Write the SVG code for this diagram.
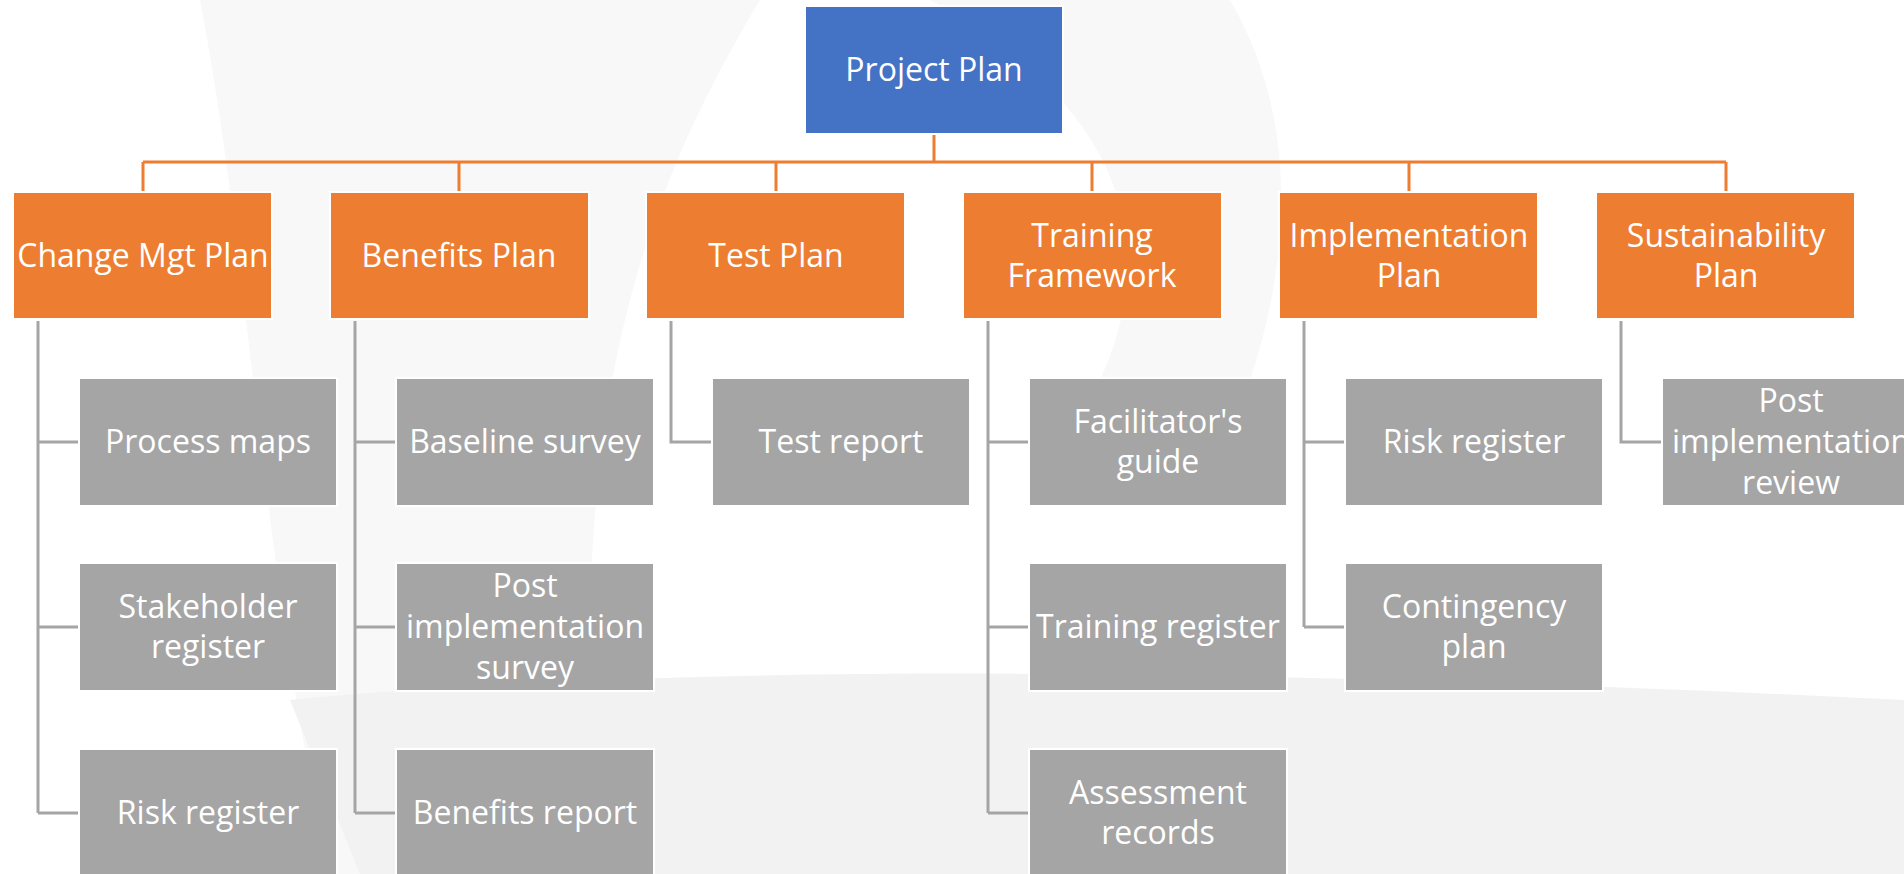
<svg xmlns="http://www.w3.org/2000/svg" width="1904" height="874" viewBox="0 0 1904 874">
<style>
.bg{fill:#ffffff}
.wm{fill:#f8f8f8}
.wm2{fill:#f2f2f2}
.top{fill:#4472c4;stroke:#ffffff;stroke-width:2}
.lvl1{fill:#ed7d31;stroke:#ffffff;stroke-width:2}
.lvl2{fill:#a5a5a5;stroke:#ffffff;stroke-width:2}
text{font-family:"Open Sans","Noto Sans","Liberation Sans",sans-serif;font-size:32px;fill:#ffffff;text-anchor:middle}
.oc{fill:none;stroke:#ed7d31;stroke-width:3}
.gc{fill:none;stroke:#a5a5a5;stroke-width:3}
</style>
<rect class="bg" x="0" y="0" width="1904" height="874"/>
<g id="watermark">
<path class="wm" d="M200 0 L760 0 C640 200 560 420 600 874 L330 874 C260 560 250 260 200 0 Z"/>
<path class="wm" d="M930 0 L1230 0 C1300 120 1290 260 1250 380 L1100 380 C1160 250 1130 110 930 0 Z"/>
<path class="wm2" d="M290 700 C700 660 1300 670 1904 700 L1904 874 L360 874 C330 800 310 750 290 700 Z"/>
</g>
<g id="connectors">
<path class="oc" d="M934 134 V162 M143 162 H1726 M143 162 V192 M459 162 V192 M776 162 V192 M1092 162 V192 M1409 162 V192 M1726 162 V192"/>
<path class="gc" d="M38 321 V813 M38 442 H79 M38 627 H79 M38 813 H79"/>
<path class="gc" d="M355 321 V813 M355 442 H396 M355 627 H396 M355 813 H396"/>
<path class="gc" d="M671 321 V442 H712"/>
<path class="gc" d="M988 321 V813 M988 442 H1029 M988 627 H1029 M988 813 H1029"/>
<path class="gc" d="M1304 321 V627 M1304 442 H1345 M1304 627 H1345"/>
<path class="gc" d="M1621 321 V442 H1662"/>
</g>
<g id="project-plan"><rect class="top" x="805" y="6" width="258" height="128"/><text x="934" y="81">Project Plan</text></g>
<g id="change-mgt-plan"><rect class="lvl1" x="13" y="192" width="259" height="127"/><text x="143" y="267">Change Mgt Plan</text></g>
<g id="benefits-plan"><rect class="lvl1" x="330" y="192" width="259" height="127"/><text x="459" y="267">Benefits Plan</text></g>
<g id="test-plan"><rect class="lvl1" x="646" y="192" width="259" height="127"/><text x="776" y="267">Test Plan</text></g>
<g id="training-framework"><rect class="lvl1" x="963" y="192" width="259" height="127"/><text x="1092" y="247">Training</text><text x="1092" y="287">Framework</text></g>
<g id="implementation-plan"><rect class="lvl1" x="1279" y="192" width="259" height="127"/><text x="1409" y="247">Implementation</text><text x="1409" y="287">Plan</text></g>
<g id="sustainability-plan"><rect class="lvl1" x="1596" y="192" width="259" height="127"/><text x="1726" y="247">Sustainability</text><text x="1726" y="287">Plan</text></g>
<g id="process-maps"><rect class="lvl2" x="79" y="378" width="258" height="128"/><text x="208" y="453">Process maps</text></g>
<g id="stakeholder-register"><rect class="lvl2" x="79" y="563" width="258" height="128"/><text x="208" y="618">Stakeholder</text><text x="208" y="658">register</text></g>
<g id="risk-register-1"><rect class="lvl2" x="79" y="749" width="258" height="128"/><text x="208" y="824">Risk register</text></g>
<g id="baseline-survey"><rect class="lvl2" x="396" y="378" width="258" height="128"/><text x="525" y="453">Baseline survey</text></g>
<g id="post-implementation-survey"><rect class="lvl2" x="396" y="563" width="258" height="128"/><text x="525" y="597">Post</text><text x="525" y="638">implementation</text><text x="525" y="679">survey</text></g>
<g id="benefits-report"><rect class="lvl2" x="396" y="749" width="258" height="128"/><text x="525" y="824">Benefits report</text></g>
<g id="test-report"><rect class="lvl2" x="712" y="378" width="258" height="128"/><text x="841" y="453">Test report</text></g>
<g id="facilitators-guide"><rect class="lvl2" x="1029" y="378" width="258" height="128"/><text x="1158" y="433">Facilitator's</text><text x="1158" y="473">guide</text></g>
<g id="training-register"><rect class="lvl2" x="1029" y="563" width="258" height="128"/><text x="1158" y="638">Training register</text></g>
<g id="assessment-records"><rect class="lvl2" x="1029" y="749" width="258" height="128"/><text x="1158" y="804">Assessment</text><text x="1158" y="844">records</text></g>
<g id="risk-register-2"><rect class="lvl2" x="1345" y="378" width="258" height="128"/><text x="1474" y="453">Risk register</text></g>
<g id="contingency-plan"><rect class="lvl2" x="1345" y="563" width="258" height="128"/><text x="1474" y="618">Contingency</text><text x="1474" y="658">plan</text></g>
<g id="post-implementation-review"><rect class="lvl2" x="1662" y="378" width="258" height="128"/><text x="1791" y="412">Post</text><text x="1791" y="453">implementation</text><text x="1791" y="494">review</text></g>
</svg>
